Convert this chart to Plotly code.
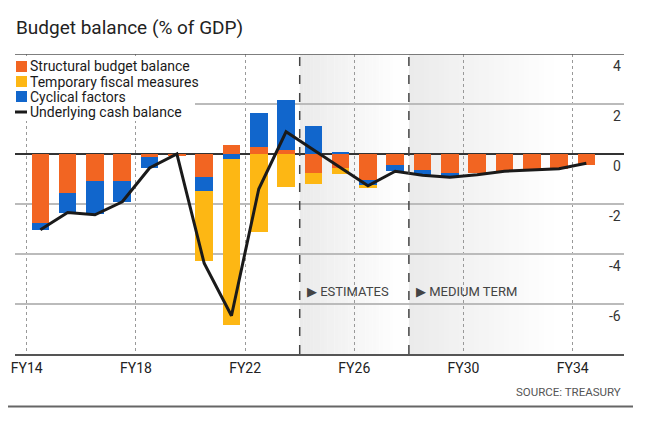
import plotly.graph_objects as go

# ---------------- data ----------------
years = list(range(2014, 2035))  # FY14 .. FY34
structural = [-2.77, -1.54, -1.07, -1.07, -0.13, -0.08, -0.93, 0.36, 0.29, 0.16, -0.76,
              -0.56, -1.03, -0.42, -0.63, -0.74, -0.76, -0.69, -0.67, -0.59, -0.43]
temporary = [0, 0, 0, 0, 0, 0, -2.82, -6.64, -3.10, -1.30, -0.45,
             -0.22, -0.07, 0, 0, 0, 0, 0, 0, 0, 0]
cyclical = [-0.27, -0.80, -1.31, -0.84, -0.43, 0, -0.54, -0.19, 1.36, 2.01, 1.12,
            0.08, -0.24, -0.27, -0.20, -0.13, 0, 0, 0, 0, 0]
underlying = [-3.03, -2.34, -2.43, -1.91, -0.56, 0.0, -4.37, -6.47, -1.40, 0.89, 0.17,
              -0.54, -1.27, -0.69, -0.85, -0.93, -0.83, -0.69, -0.65, -0.59, -0.37]

tick_years = [2014, 2018, 2022, 2026, 2030, 2034]
tick_labels = ["FY14", "FY18", "FY22", "FY26", "FY30", "FY34"]
y_ticks = [-6, -4, -2, 0, 2, 4]
y_tick_labels = ["-6", "-4", "-2", "0", "2", "4"]

series_names = ["Structural budget balance", "Temporary fiscal measures",
                "Cyclical factors", "Underlying cash balance"]
ORANGE, YELLOW, BLUE, BLACK = "#F26522", "#FDB714", "#1166CC", "#1a1a1a"

estimates_start = 2023.5
medium_start = 2027.5

FONT = "Roboto"

# ---------------- geometry helpers ----------------
# page body has an 8px margin, so the figure is drawn 8px smaller and all
# target pixel positions are offset by 8px
OFF = 8
W, H = 658 - OFF, 432 - OFF
ML, MR, MT, MB = 15 - OFF, 34, 54 - OFF, 78
PW, PH = W - ML - MR, H - MT - MB
XR = [2013.07, 2035.38]
YR = [-8, 4]


def px_x(px):
    return (px - OFF - ML) / PW


def px_y(py):
    return (H - MB - (py - OFF)) / PH


fig = go.Figure()

# bars (stack order: structural nearest zero, then cyclical, then temporary)
for name, vals, col in [(series_names[0], structural, ORANGE),
                        (series_names[2], cyclical, BLUE),
                        (series_names[1], temporary, YELLOW)]:
    fig.add_trace(go.Bar(x=years, y=vals, name=name, marker_color=col,
                         marker_line_width=0, width=0.645, showlegend=False))

fig.add_trace(go.Scatter(x=years, y=underlying, mode="lines", name=series_names[3],
                         line=dict(color=BLACK, width=3), showlegend=False))

shapes = []

# gradient shading of forecast regions
def gradient(x0, x1, start=236, steps=30):
    out = []
    step = (x1 - x0) / steps
    for i in range(steps):
        g = int(round(start + (255 - start) * i / (steps - 1)))
        out.append(dict(type="rect", xref="x", yref="y", x0=x0 + i * step, x1=x0 + (i + 1) * step + 0.01,
                        y0=YR[0], y1=YR[1], fillcolor=f"rgb({g},{g},{g})", line_width=0, layer="below"))
    return out

shapes += gradient(estimates_start, medium_start - 0.2, start=235)
shapes += gradient(medium_start, 2033.0, start=235)

# legend background (covers gridlines)
shapes.append(dict(type="rect", xref="paper", yref="paper", x0=px_x(12), x1=px_x(195),
                   y0=px_y(121), y1=px_y(56), fillcolor="white", line_width=0, layer="above"))

# top rule (y = 4)
shapes.append(dict(type="line", xref="paper", yref="y", x0=0, x1=1, y0=4, y1=4,
                   line=dict(color="#555", width=1.5), layer="above"))

# dashed separators
for xv in [estimates_start, medium_start]:
    shapes.append(dict(type="line", xref="x", yref="y", x0=xv, x1=xv, y0=YR[0], y1=YR[1],
                       line=dict(color="#444", width=1.5, dash="dash"), layer="above"))

# bottom rule
shapes.append(dict(type="line", xref="paper", yref="paper", x0=px_x(5), x1=px_x(633),
                   y0=px_y(406.5), y1=px_y(406.5), line=dict(color="#666", width=2)))

# legend symbols + texts
legend_rows = [66.5, 81.5, 96.5, 112]
legend_cols = [ORANGE, YELLOW, BLUE, BLACK]
annotations = []
for i, (name, col, yy) in enumerate(zip(series_names, legend_cols, legend_rows)):
    if i < 3:
        shapes.append(dict(type="rect", xref="paper", yref="paper", x0=px_x(16), x1=px_x(27),
                           y0=px_y(yy + 5.5), y1=px_y(yy - 5.5), fillcolor=col, line_width=0,
                           layer="above"))
    else:
        shapes.append(dict(type="line", xref="paper", yref="paper", x0=px_x(15), x1=px_x(27),
                           y0=px_y(yy), y1=px_y(yy), line=dict(color=col, width=3), layer="above"))
    annotations.append(dict(xref="paper", yref="paper", x=px_x(28), y=px_y(yy), text=name,
                            showarrow=False, xanchor="left", yanchor="middle",
                            font=dict(family=FONT, size=14, color="#1a1a1a")))

# y tick labels (drawn just below each gridline, at the right)
for v, lab in zip(y_ticks, y_tick_labels):
    annotations.append(dict(xref="paper", yref="y", x=px_x(623), y=v, yshift=-12, text=lab,
                            showarrow=False, xanchor="right", yanchor="middle",
                            font=dict(family=FONT, size=14, color="#333")))

# region labels
for xv, txt in [(estimates_start, "▶ ESTIMATES"), (medium_start, "▶ MEDIUM TERM")]:
    annotations.append(dict(xref="x", yref="y", x=xv, y=-5.5, text=txt, showarrow=False,
                            xanchor="left", yanchor="middle", xshift=5,
                            font=dict(family=FONT, size=13, color="#444")))

# source
annotations.append(dict(xref="paper", yref="paper", x=px_x(623), y=px_y(392),
                        text="SOURCE: TREASURY", showarrow=False, xanchor="right",
                        yanchor="middle", font=dict(family=FONT, size=11.5, color="#555")))

fig.update_layout(
    width=W, height=H,
    margin=dict(l=ML, r=MR, t=MT, b=MB, autoexpand=False),
    paper_bgcolor="white", plot_bgcolor="white",
    barmode="relative", bargap=0,
    showlegend=False,
    title=dict(text="Budget balance (% of GDP)", x=(16 - OFF) / W, xanchor="left", xref="container",
               y=1 - (27 - OFF) / H, yanchor="middle", yref="container", pad=dict(l=0, r=0, t=0, b=0),
               font=dict(family=FONT, size=19, color="#222")),
    font=dict(family=FONT, color="#222"),
    shapes=shapes,
    annotations=annotations,
    xaxis=dict(range=XR, tickvals=[t - 0.5 for t in tick_years], ticktext=tick_labels,
               showgrid=True, griddash="dot", gridcolor="#999", gridwidth=1,
               zeroline=False, showline=True, linecolor="#555", linewidth=2,
               automargin=False,
               ticks="", tickfont=dict(family=FONT, size=14, color="#222")),
    yaxis=dict(range=YR, tickvals=y_ticks, side="right", showticklabels=False,
               automargin=False,
               showgrid=True, gridcolor="#bbb", gridwidth=1.5,
               zeroline=True, zerolinecolor="#333", zerolinewidth=1.5,
               showline=False, ticks=""),
)

fig.write_html("out.html")
